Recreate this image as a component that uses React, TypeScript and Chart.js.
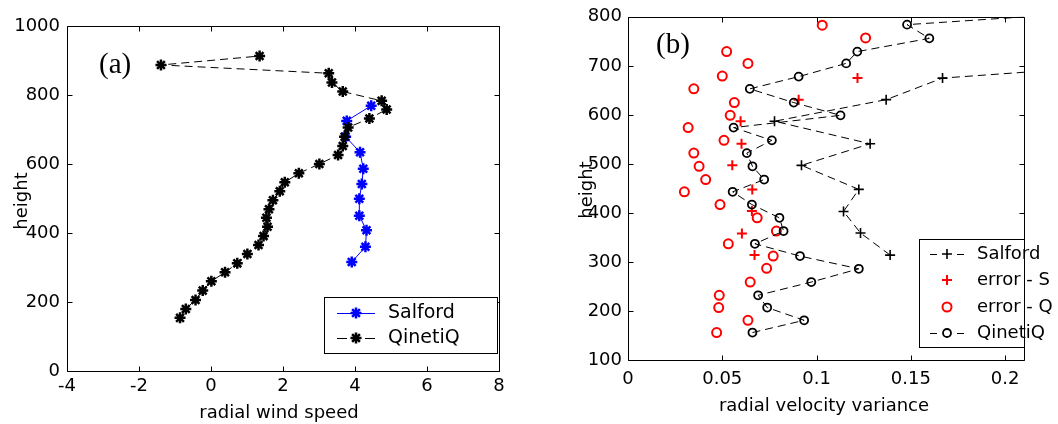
import React, { useEffect, useRef } from 'react';
import { Chart, registerables } from 'chart.js';

Chart.register(...registerables);

const FONT = '"DejaVu Sans", "Liberation Sans", Arial, sans-serif';
const SERIF = '"Liberation Serif", "Times New Roman", serif';

// ---------- Panel (a): radial wind speed vs height ----------
const salfordHeightA = [316, 360, 408, 450, 499, 542, 586, 634, 679, 725, 769];
const salfordSpeedA = [3.91, 4.29, 4.32, 4.12, 4.12, 4.19, 4.23, 4.14, 3.74, 3.77, 4.45];

const qinetiqHeightA = [154, 180, 206, 233, 260, 286, 312, 339, 365, 391, 418, 444, 469, 495, 521, 547, 573, 600, 626, 652, 679, 706, 732, 758, 783, 810, 836, 863, 887, 913];
const qinetiqSpeedA = [-0.86, -0.70, -0.43, -0.23, 0.01, 0.39, 0.73, 1.01, 1.32, 1.46, 1.57, 1.54, 1.61, 1.72, 1.91, 2.05, 2.44, 3.01, 3.53, 3.66, 3.71, 3.81, 4.40, 4.88, 4.74, 3.66, 3.36, 3.27, -1.39, 1.35];

const xTicksA = [-4, -2, 0, 2, 4, 6, 8];
const yTicksA = [0, 200, 400, 600, 800, 1000];

// ---------- Panel (b): radial velocity variance vs height ----------
const salfordHeightB = [314, 359, 403, 448, 497, 541, 587, 631, 675, 720];
const salfordVarB = [0.139, 0.1233, 0.1143, 0.1224, 0.092, 0.1284, 0.0777, 0.1369, 0.1668, 0.33];

const errSHeightB = [314, 358, 404, 448, 497, 541, 587, 631, 675];
const errSVarB = [0.0671, 0.0604, 0.0657, 0.0659, 0.0553, 0.0602, 0.0597, 0.0905, 0.1217];

const errQHeightB = [156, 181, 207, 232, 259, 287, 312, 337, 363, 390, 417, 443, 468, 495, 522, 548, 574, 599, 625, 653, 679, 705, 729, 757, 783];
const errQVarB = [0.047, 0.0636, 0.0481, 0.0484, 0.0648, 0.0735, 0.077, 0.0532, 0.0787, 0.0685, 0.0488, 0.0299, 0.0412, 0.0377, 0.0349, 0.0509, 0.0319, 0.0542, 0.0564, 0.0349, 0.050, 0.0636, 0.0523, 0.126, 0.103];

const qinetiqHeightB = [156, 181, 207, 232, 259, 286, 312, 337, 363, 390, 417, 443, 468, 495, 522, 548, 574, 599, 625, 653, 678, 705, 729, 756, 784, 810];
const qinetiqVarB = [0.066, 0.0934, 0.0738, 0.069, 0.0972, 0.1224, 0.0912, 0.0673, 0.0825, 0.0803, 0.0657, 0.0555, 0.0722, 0.066, 0.063, 0.0763, 0.056, 0.1127, 0.0879, 0.0646, 0.0905, 0.1157, 0.1216, 0.1598, 0.148, 0.25];

const xTicksB = [0, 0.05, 0.1, 0.15, 0.2];
const xTickLabelsB = ['0', '0.05', '0.1', '0.15', '0.2'];
const yTicksB = [100, 200, 300, 400, 500, 600, 700, 800];

const W = 529;
const H = 424;

const pts = (xs: number[], ys: number[]) => xs.map((x, i) => ({ x, y: ys[i] }));

function drawMarker(ctx: CanvasRenderingContext2D, style: string, x: number, y: number, r: number, color: string, lw: number) {
  ctx.save();
  ctx.strokeStyle = color;
  ctx.lineWidth = lw;
  ctx.setLineDash([]);
  ctx.beginPath();
  if (style === 'cross' || style === 'star') {
    ctx.moveTo(x - r, y); ctx.lineTo(x + r, y);
    ctx.moveTo(x, y - r); ctx.lineTo(x, y + r);
    if (style === 'star') {
      const d = r * Math.SQRT1_2;
      ctx.moveTo(x - d, y - d); ctx.lineTo(x + d, y + d);
      ctx.moveTo(x - d, y + d); ctx.lineTo(x + d, y - d);
    }
  } else {
    ctx.arc(x, y, r, 0, Math.PI * 2);
  }
  ctx.stroke();
  ctx.restore();
}

type LegendCfg = {
  order: number[];
  left: number; top: number; right: number; bottom: number;
  rows: number[]; x0: number; x1: number; mx: number; tx: number;
  fontSize: number; sampleDash: number[];
};

type Deco = {
  xTitle: string; xTitleX: number; xTitleBaseline: number;
  yTitle: string; yTitleBaseline: number; yTitleY: number;
  panel: string; panelX: number; panelBaseline: number;
  legend: LegendCfg;
};

function decoPlugin(d: Deco) {
  return {
    id: 'deco',
    afterDraw(chart: any) {
      const { ctx, chartArea: ca, scales } = chart;
      const L = Math.round(ca.left) + 0.5;
      const R = Math.round(ca.right) + 0.5;
      const T = Math.round(ca.top) + 0.5;
      const B = Math.round(ca.bottom) + 0.5;
      ctx.save();
      ctx.strokeStyle = '#000';
      ctx.lineWidth = 1;
      ctx.setLineDash([]);
      ctx.beginPath();
      ctx.rect(L, T, R - L, B - T);
      const tl = 5;
      for (const t of scales.x.ticks) {
        const px = Math.round(scales.x.getPixelForValue(t.value)) + 0.5;
        ctx.moveTo(px, B); ctx.lineTo(px, B - tl);
        ctx.moveTo(px, T); ctx.lineTo(px, T + tl);
      }
      for (const t of scales.y.ticks) {
        const py = Math.round(scales.y.getPixelForValue(t.value)) + 0.5;
        ctx.moveTo(L, py); ctx.lineTo(L + tl, py);
        ctx.moveTo(R, py); ctx.lineTo(R - tl, py);
      }
      ctx.stroke();

      // axis titles
      ctx.fillStyle = '#000';
      ctx.font = `18px ${FONT}`;
      ctx.textAlign = 'center';
      ctx.textBaseline = 'alphabetic';
      ctx.fillText(d.xTitle, d.xTitleX, d.xTitleBaseline);
      ctx.save();
      ctx.translate(d.yTitleBaseline, d.yTitleY);
      ctx.rotate(-Math.PI / 2);
      ctx.fillText(d.yTitle, 0, 0);
      ctx.restore();

      // panel label
      ctx.font = `29px ${SERIF}`;
      ctx.textAlign = 'left';
      ctx.fillText(d.panel, d.panelX, d.panelBaseline);

      // legend
      const lg = d.legend;
      ctx.fillStyle = '#fff';
      ctx.fillRect(lg.left, lg.top, lg.right - lg.left, lg.bottom - lg.top);
      ctx.strokeStyle = '#000';
      ctx.lineWidth = 1;
      ctx.strokeRect(lg.left + 0.5, lg.top + 0.5, lg.right - lg.left, lg.bottom - lg.top);
      ctx.font = `${lg.fontSize}px ${FONT}`;
      ctx.textBaseline = 'middle';
      ctx.textAlign = 'left';
      lg.order.forEach((di, k) => {
        const ds = chart.data.datasets[di];
        const y = lg.rows[k];
        if (ds.showLine) {
          ctx.save();
          ctx.strokeStyle = ds.borderColor;
          ctx.lineWidth = ds.borderWidth;
          ctx.setLineDash(ds.borderDash && ds.borderDash.length ? lg.sampleDash : []);
          ctx.beginPath();
          ctx.moveTo(lg.x0, y + 0.5);
          ctx.lineTo(lg.x1, y + 0.5);
          ctx.stroke();
          ctx.restore();
        }
        drawMarker(ctx, ds.pointStyle, lg.mx, y, ds.pointRadius, ds.pointBorderColor, ds.pointBorderWidth);
        ctx.fillStyle = '#000';
        ctx.fillText(ds.label, lg.tx, y);
      });
      ctx.restore();
    },
  };
}

function axisCfg(ticksArr: number[], min: number, max: number, padding: number, size: number, labels?: string[]) {
  return {
    type: 'linear',
    min,
    max,
    grid: { display: false, drawTicks: false },
    border: { display: false },
    afterBuildTicks: (s: any) => {
      s.ticks = ticksArr.map((v) => ({ value: v }));
    },
    afterFit: (s: any) => {
      if (s.isHorizontal()) s.height = size;
      else s.width = size;
    },
    ticks: {
      color: '#000',
      padding,
      autoSkip: false,
      maxRotation: 0,
      font: { family: FONT, size: 18 },
      callback: (v: number) => {
        if (labels) {
          const i = ticksArr.indexOf(v);
          return i >= 0 ? labels[i] : String(v);
        }
        return String(v);
      },
    },
  };
}

function buildA(canvas: HTMLCanvasElement) {
  const left = 67, top = 26, right = 499, bottom = 371;
  return new Chart(canvas, {
    type: 'scatter',
    data: {
      datasets: [
        {
          label: 'Salford',
          data: pts(salfordSpeedA, salfordHeightA),
          showLine: true,
          borderColor: '#0000ff',
          borderWidth: 1,
          borderDash: [],
          pointStyle: 'star',
          pointRadius: 5.5,
          pointBorderWidth: 2.5,
          pointBorderColor: '#0000ff',
          pointBackgroundColor: '#0000ff',
          order: 1,
        },
        {
          label: 'QinetiQ',
          data: pts(qinetiqSpeedA, qinetiqHeightA),
          showLine: true,
          borderColor: '#000000',
          borderWidth: 1,
          borderDash: [8, 5],
          pointStyle: 'star',
          pointRadius: 5.5,
          pointBorderWidth: 2.5,
          pointBorderColor: '#000000',
          pointBackgroundColor: '#000000',
          order: 0,
        },
      ] as any,
    },
    options: {
      responsive: false,
      maintainAspectRatio: false,
      devicePixelRatio: 1,
      animation: false,
      events: [],
      layout: { padding: { left: 0, top, right: W - right, bottom: 0 } },
      plugins: { legend: { display: false }, tooltip: { enabled: false } },
      scales: {
        x: axisCfg(xTicksA, -4, 8, 5, H - bottom) as any,
        y: axisCfg(yTicksA, 0, 1000, 7, left) as any,
      },
    },
    plugins: [
      decoPlugin({
        xTitle: 'radial wind speed', xTitleX: 279, xTitleBaseline: 418,
        yTitle: 'height', yTitleBaseline: 27, yTitleY: 201,
        panel: '(a)', panelX: 99, panelBaseline: 73,
        legend: {
          order: [0, 1], left: 324, top: 297, right: 497, bottom: 353,
          rows: [313, 338], x0: 337, x1: 375, mx: 356, tx: 388, fontSize: 19, sampleDash: [10, 18],
        },
      }),
    ],
  } as any);
}

function buildB(canvas: HTMLCanvasElement) {
  const left = 99, top = 16, right = 495, bottom = 360;
  return new Chart(canvas, {
    type: 'scatter',
    data: {
      datasets: [
        {
          label: 'Salford',
          data: pts(salfordVarB, salfordHeightB),
          showLine: true,
          borderColor: '#000000',
          borderWidth: 1,
          borderDash: [8, 5],
          pointStyle: 'cross',
          pointRadius: 5,
          pointBorderWidth: 1.6,
          pointBorderColor: '#000000',
          pointBackgroundColor: 'rgba(0,0,0,0)',
          order: 3,
        },
        {
          label: 'error - S',
          data: pts(errSVarB, errSHeightB),
          showLine: false,
          borderColor: '#ff0000',
          borderWidth: 1,
          borderDash: [],
          pointStyle: 'cross',
          pointRadius: 5,
          pointBorderWidth: 2,
          pointBorderColor: '#ff0000',
          pointBackgroundColor: 'rgba(0,0,0,0)',
          order: 2,
        },
        {
          label: 'error - Q',
          data: pts(errQVarB, errQHeightB),
          showLine: false,
          borderColor: '#ff0000',
          borderWidth: 1,
          borderDash: [],
          pointStyle: 'circle',
          pointRadius: 4.5,
          pointBorderWidth: 2,
          pointBorderColor: '#ff0000',
          pointBackgroundColor: 'rgba(0,0,0,0)',
          order: 1,
        },
        {
          label: 'QinetiQ',
          data: pts(qinetiqVarB, qinetiqHeightB),
          showLine: true,
          borderColor: '#000000',
          borderWidth: 1,
          borderDash: [8, 5],
          pointStyle: 'circle',
          pointRadius: 4,
          pointBorderWidth: 1.8,
          pointBorderColor: '#000000',
          pointBackgroundColor: 'rgba(0,0,0,0)',
          order: 0,
        },
      ] as any,
    },
    options: {
      responsive: false,
      maintainAspectRatio: false,
      devicePixelRatio: 1,
      animation: false,
      events: [],
      layout: { padding: { left: 0, top, right: W - right, bottom: 0 } },
      plugins: { legend: { display: false }, tooltip: { enabled: false } },
      scales: {
        x: axisCfg(xTicksB, 0, 0.21, 9, H - bottom, xTickLabelsB) as any,
        y: axisCfg(yTicksB, 100, 800, 6, left) as any,
      },
    },
    plugins: [
      decoPlugin({
        xTitle: 'radial velocity variance', xTitleX: 295, xTitleBaseline: 411,
        yTitle: 'height', yTitleBaseline: 63, yTitleY: 190,
        panel: '(b)', panelX: 127, panelBaseline: 53,
        legend: {
          order: [0, 1, 2, 3], left: 390, top: 239, right: 495, bottom: 347,
          rows: [254, 280, 307, 333], x0: 401, x1: 438, mx: 418, tx: 448, fontSize: 18, sampleDash: [7, 20],
        },
      }),
    ],
  } as any);
}

function ChartCanvas({ build, left }: { build: (c: HTMLCanvasElement) => Chart; left: number }) {
  const ref = useRef<HTMLCanvasElement>(null);
  useEffect(() => {
    const chart = build(ref.current as HTMLCanvasElement);
    return () => chart.destroy();
  }, [build]);
  return (
    <canvas
      ref={ref}
      width={W}
      height={H}
      style={{ position: 'absolute', left, top: 0, width: W, height: H, display: 'block' }}
    />
  );
}

export default function App() {
  return (
    <div style={{ position: 'fixed', left: 0, top: 0, width: 1058, height: 424, background: '#fff', overflow: 'hidden' }}>
      <ChartCanvas build={buildA} left={0} />
      <ChartCanvas build={buildB} left={W} />
    </div>
  );
}
